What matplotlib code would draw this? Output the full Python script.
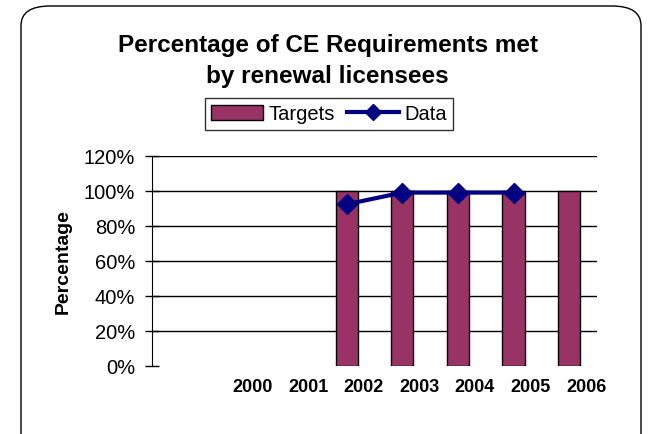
#!/usr/bin/env python3
# -*- coding: utf-8 -*-
"""
Percentage of CE Requirements met by renewal licensees
"""

import numpy as np
import matplotlib.pyplot as plt
from matplotlib.patches import FancyBboxPatch
from matplotlib.lines import Line2D
from matplotlib.patches import Patch
import matplotlib.transforms as mtransforms

plt.rcParams['font.family'] = ['Liberation Sans', 'DejaVu Sans']

# Данные
slots = ['', '2000', '2001', '2002', '2003', '2004', '2005', '2006']
target_slots = [3, 4, 5, 6, 7]
targets = [100, 100, 100, 100, 100]
data_slots = [3, 4, 5, 6]
data_values = [92.4, 99.1, 99.1, 99.1]
yticks = [0, 20, 40, 60, 80, 100, 120]

fig = plt.figure(figsize=(6.49, 4.35), dpi=100)

# Рамка с закруглёнными углами
box = FancyBboxPatch((21 / 649, -0.05), 620 / 649, 1 - 7 / 435 + 0.05,
                     boxstyle='round,pad=0,rounding_size=0.045',
                     transform=fig.transFigure, facecolor='none',
                     edgecolor='black', linewidth=1.0, zorder=-1)
fig.patches.append(box)

ax = fig.add_axes([152 / 649, 1 - 367 / 435, 445 / 649, 210 / 435])
ax.set_facecolor('none')

x = np.arange(len(slots))
ax.bar(target_slots, targets, width=0.4, color='#993366',
       edgecolor='black', linewidth=1.0, zorder=2)
ax.plot(data_slots, data_values, color='#000080', linewidth=3,
        marker='D', markersize=10, zorder=3)

ax.set_xlim(-0.5, len(slots) - 0.5)
ax.set_ylim(0, 120)
ax.set_yticks(yticks)
ax.set_yticklabels([f'{v}%' for v in yticks], fontsize=14.5)
ax.yaxis.grid(True, color='black', linewidth=1.0)
ax.get_ygridlines()[0].set_visible(False)
ax.set_axisbelow(True)

ax.set_xticks(x)
ax.set_xticklabels(slots, fontsize=13, fontweight='bold')
ax.tick_params(axis='x', length=0, pad=9)
ax.tick_params(axis='y', direction='inout', length=10, width=1.0, pad=7)
shift = mtransforms.ScaledTranslation(17 / 100, 0, fig.dpi_scale_trans)
for lbl in ax.get_xticklabels():
    lbl.set_transform(lbl.get_transform() + shift)

for side in ['top', 'right', 'bottom']:
    ax.spines[side].set_visible(False)
ax.spines['left'].set_color('black')

ax.set_ylabel('Percentage', fontsize=14, fontweight='bold', labelpad=9)

fig.text(0.505, 1 - 61 / 435, 'Percentage of CE Requirements met\nby renewal licensees',
         ha='center', va='center', fontsize=17.5, fontweight='bold',
         linespacing=1.4)

handles = [Patch(facecolor='#993366', edgecolor='black', label='Targets'),
           Line2D([0], [0], color='#000080', linewidth=3, marker='D',
                  markersize=8, label='Data')]
leg = fig.legend(handles=handles, loc='center', ncol=2,
                 bbox_to_anchor=(329 / 649, 1 - 115 / 435), fontsize=14.5,
                 frameon=True, fancybox=False, edgecolor='black',
                 handlelength=2.6, handletextpad=0.25, columnspacing=0.6,
                 borderpad=0.3)
leg.get_frame().set_linewidth(1.0)

fig.savefig('out.png', dpi=100)
